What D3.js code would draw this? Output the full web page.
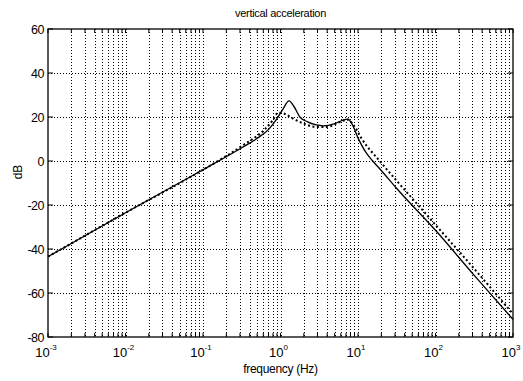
<!DOCTYPE html>
<html>
<head>
<meta charset="utf-8">
<script src="https://cdn.jsdelivr.net/npm/d3@7"></script>
<style>
  body { margin: 0; background: #fff; }
  svg text { font-family: "Liberation Sans", Arial, sans-serif; fill: #000; }
</style>
</head>
<body>
<div id="chart"></div>
<script>
// log10(frequency) and magnitude in dB
const modelLogF = [-3, -2, -1, -0.5, -0.3, -0.15, -0.05, 0.03, 0.11, 0.17, 0.25, 0.35, 0.45, 0.55, 0.7, 0.8, 0.87, 0.92, 1.0, 1.1, 1.19, 1.28, 1.5, 2.0, 2.5, 3.0];
const modelDb   = [-43.5, -23.5, -4, 6, 10.3, 14.5, 19, 23.5, 27.3, 25, 20, 17.8, 16.5, 16, 17, 18.5, 19, 17, 10.5, 4, 0, -3.5, -12.5, -31.5, -52, -72];

const measLogF = [-3, -2, -1, -0.5, -0.2, -0.1, -0.03, 0.05, 0.15, 0.3, 0.45, 0.6, 0.75, 0.87, 0.95, 1.05, 1.28, 1.5, 2.0, 2.5, 3.0];
const measDb   = [-43.5, -23.5, -4, 6.8, 14.5, 18.5, 22, 21.5, 19.5, 17, 15.5, 15.5, 17.5, 18.8, 16, 10, 0, -9, -29, -49, -69.5];

const xDecades = [-3, -2, -1, 0, 1, 2, 3];
const yTicks = [-80, -60, -40, -20, 0, 20, 40, 60];

const width = 523, height = 381;
const margin = { top: 29, right: 10, bottom: 44, left: 48 };

const svg = d3.select('#chart').append('svg')
  .attr('width', width)
  .attr('height', height);

const x = d3.scaleLog()
  .domain([1e-3, 1e3])
  .range([margin.left, width - margin.right]);

const y = d3.scaleLinear()
  .domain([-80, 60])
  .range([height - margin.bottom, margin.top]);

// grid
const minor = [];
for (const d of xDecades) {
  if (d === 3) { continue; }
  for (let k = 1; k <= 9; k++) { minor.push(k * Math.pow(10, d)); }
}
minor.push(1e3);

const grid = svg.append('g')
  .attr('stroke', '#000')
  .attr('stroke-width', 1)
  .attr('stroke-dasharray', '1,2');

grid.selectAll('line.vx')
  .data(minor.filter(v => v > 1e-3 && v < 1e3))
  .enter().append('line')
  .attr('x1', d => Math.round(x(d)) + 0.5)
  .attr('x2', d => Math.round(x(d)) + 0.5)
  .attr('y1', y(60))
  .attr('y2', y(-80));

grid.selectAll('line.hy')
  .data(yTicks.filter(v => v > -80 && v < 60))
  .enter().append('line')
  .attr('x1', x(1e-3))
  .attr('x2', x(1e3))
  .attr('y1', d => Math.round(y(d)) + 0.5)
  .attr('y2', d => Math.round(y(d)) + 0.5);

// frame
svg.append('rect')
  .attr('x', x(1e-3))
  .attr('y', y(60))
  .attr('width', x(1e3) - x(1e-3))
  .attr('height', y(-80) - y(60))
  .attr('fill', 'none')
  .attr('stroke', '#000')
  .attr('stroke-width', 1.3);

// inner tick marks
const ticks = svg.append('g').attr('stroke', '#000').attr('stroke-width', 1);
ticks.selectAll('line.tb')
  .data(minor)
  .enter().append('line')
  .attr('x1', d => x(d)).attr('x2', d => x(d))
  .attr('y1', y(-80)).attr('y2', y(-80) - 4);
ticks.selectAll('line.tt')
  .data(minor)
  .enter().append('line')
  .attr('x1', d => x(d)).attr('x2', d => x(d))
  .attr('y1', y(60)).attr('y2', y(60) + 4);
ticks.selectAll('line.tl')
  .data(yTicks)
  .enter().append('line')
  .attr('x1', x(1e-3)).attr('x2', x(1e-3) + 5)
  .attr('y1', d => y(d)).attr('y2', d => y(d));
ticks.selectAll('line.tr')
  .data(yTicks)
  .enter().append('line')
  .attr('x1', x(1e3)).attr('x2', x(1e3) - 5)
  .attr('y1', d => y(d)).attr('y2', d => y(d));

// y tick labels
svg.append('g').selectAll('text')
  .data(yTicks)
  .enter().append('text')
  .attr('x', x(1e-3) - 4)
  .attr('y', d => y(d) + 4.5)
  .attr('text-anchor', 'end')
  .attr('font-size', 12.5)
  .attr('letter-spacing', -0.5)
  .text(d => d);

// x tick labels 10^n
const xl = svg.append('g').selectAll('text')
  .data(xDecades)
  .enter().append('text')
  .attr('x', d => x(Math.pow(10, d)) - 2)
  .attr('y', y(-80) + 20)
  .attr('text-anchor', 'middle')
  .attr('font-size', 13);
xl.append('tspan').text('10');
xl.append('tspan')
  .attr('dy', -7)
  .attr('font-size', 8)
  .text(d => d);

// lines
const line = d3.line()
  .x(d => x(Math.pow(10, d[0])))
  .y(d => y(d[1]))
  .curve(d3.curveMonotoneX);

svg.append('path')
  .datum(measLogF.map((v, i) => [v, measDb[i]]))
  .attr('fill', 'none')
  .attr('stroke', '#000')
  .attr('stroke-width', 2)
  .attr('stroke-dasharray', '2,2.5')
  .attr('d', line);

svg.append('path')
  .datum(modelLogF.map((v, i) => [v, modelDb[i]]))
  .attr('fill', 'none')
  .attr('stroke', '#000')
  .attr('stroke-width', 1.3)
  .attr('d', line);

// titles
svg.append('text')
  .attr('x', x(1)).attr('y', 17)
  .attr('text-anchor', 'middle')
  .attr('font-size', 11)
  .attr('letter-spacing', -0.3)
  .text('vertical acceleration');

svg.append('text')
  .attr('x', x(1)).attr('y', 373)
  .attr('text-anchor', 'middle')
  .attr('font-size', 12)
  .attr('letter-spacing', -0.3)
  .text('frequency (Hz)');

svg.append('text')
  .attr('transform', 'translate(22,' + y(-5) + ') rotate(-90)')
  .attr('text-anchor', 'middle')
  .attr('font-size', 12)
  .text('dB');
</script>
</body>
</html>
